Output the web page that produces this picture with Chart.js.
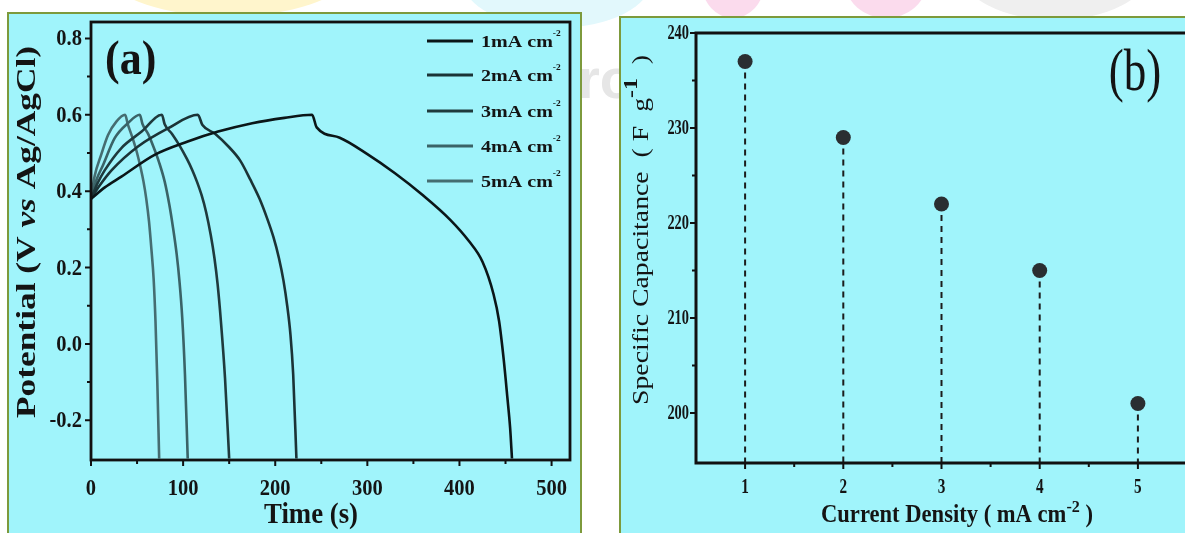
<!DOCTYPE html>
<html>
<head>
<meta charset="utf-8">
<script src="https://cdn.jsdelivr.net/npm/chart.js@4.4.1/dist/chart.umd.min.js"></script>
<style>
  body { margin: 0; width: 1185px; height: 533px; overflow: hidden; background: #fff; position: relative; }
  .blob { position: absolute; border-radius: 50%; }
  .mark { position: absolute; font: bold 56px "Liberation Sans"; color: #e6e6e6; }
  .panel { position: absolute; background: #a0f4fb; border: 2px solid #7d9a3c; overflow: hidden; }
  #pa { left: 7px; top: 12px; width: 571px; height: 540px; }
  #pb { left: 619px; top: 16px; width: 600px; height: 540px; }
  canvas { position: absolute; left: 0; top: 0; }
</style>
</head>
<body>
<div class="blob" style="left:112px;top:-62px;width:232px;height:78px;background:#fff5cc"></div>
<div class="blob" style="left:462px;top:-70px;width:190px;height:98px;background:#e2f8fc"></div>
<div class="blob" style="left:702px;top:-50px;width:62px;height:68px;background:#fbdbed"></div>
<div class="blob" style="left:846px;top:-50px;width:80px;height:68px;background:#fbdbed"></div>
<div class="blob" style="left:960px;top:-80px;width:190px;height:100px;background:#efefef"></div>
<div class="mark" style="left:578px;top:46px">ro</div>

<div class="panel" id="pa"><canvas id="ca" width="571" height="530"></canvas></div>
<div class="panel" id="pb"><canvas id="cb" width="600" height="530"></canvas></div>

<script>
// panel (a): charge/discharge curves
const timeTicks = [0, 100, 200, 300, 400, 500];
const timeMinor = [50, 150, 250, 350, 450];
const potTicks = [-0.2, 0, 0.2, 0.4, 0.6, 0.8];
const potLabels = ['-0.2', '0.0', '0.2', '0.4', '0.6', '0.8'];
const potMinor = [-0.1, 0.1, 0.3, 0.5, 0.7];
const densLabels = ['1mA cm', '2mA cm', '3mA cm', '4mA cm', '5mA cm'];

const t1 = [0, 15, 33, 69, 105, 138, 175, 210, 240, 245, 270, 300, 330, 360, 390, 410, 425, 437, 443, 448, 452, 455, 457];
const v1 = [0.38, 0.41, 0.438, 0.495, 0.53, 0.556, 0.578, 0.592, 0.6, 0.567, 0.54, 0.497, 0.447, 0.39, 0.325, 0.27, 0.215, 0.13, 0.06, -0.04, -0.14, -0.22, -0.3];
const t2 = [0, 8, 22.5, 51, 84, 116, 121, 135, 150, 162, 173, 183, 191, 198, 204, 209, 213, 216.5, 219.5, 223];
const v2 = [0.38, 0.41, 0.455, 0.517, 0.565, 0.6, 0.573, 0.55, 0.515, 0.48, 0.43, 0.38, 0.33, 0.28, 0.225, 0.165, 0.1, 0.025, -0.08, -0.3];
const t3 = [0, 7, 15, 33, 55, 77, 80, 88, 96, 104, 110, 115, 120, 125, 130, 134, 137.5, 141, 145.5, 150];
const v3 = [0.38, 0.42, 0.455, 0.513, 0.556, 0.6, 0.575, 0.55, 0.52, 0.485, 0.455, 0.425, 0.39, 0.345, 0.285, 0.225, 0.155, 0.06, -0.09, -0.3];
const t4 = [0, 6, 13, 25.7, 40, 53, 56, 62, 68, 74, 80, 85, 89, 93, 96, 99, 102, 105];
const v4 = [0.38, 0.43, 0.468, 0.539, 0.578, 0.6, 0.575, 0.55, 0.515, 0.475, 0.425, 0.365, 0.305, 0.235, 0.165, 0.07, -0.08, -0.3];
const t5 = [0, 4, 11, 18.5, 27.5, 37, 40, 45, 50, 54, 57, 60, 63, 65.5, 68, 70, 72, 74];
const v5 = [0.38, 0.44, 0.495, 0.547, 0.582, 0.6, 0.575, 0.54, 0.5, 0.46, 0.425, 0.38, 0.32, 0.25, 0.17, 0.06, -0.1, -0.3];

// panel (b): specific capacitance vs current density
const cdTicks = [1, 2, 3, 4, 5];
const cdMinor = [1.5, 2.5, 3.5, 4.5];
const capTicks = [200, 210, 220, 230, 240];
const capMinor = [205, 215, 225, 235];
const currentDensity = [1, 2, 3, 4, 5];
const capacitance = [237, 229, 222, 215, 201];

const lineColors = ['#0b1618', '#1b3336', '#1f3a3d', '#3a6367', '#456d71'];
const serif = '"Liberation Serif"';

function pts(t, v) { return t.map((x, i) => ({ x: x, y: v[i] })); }

// draw a row of text pieces: [text, font, yOffset]
function drawRuns(ctx, runs, x, y, o) {
  ctx.save();
  ctx.translate(x, y);
  if (o.rot) ctx.rotate(o.rot);
  let w = 0;
  runs.forEach(r => { ctx.font = r[1]; w += ctx.measureText(r[0]).width; });
  let sx = o.fit ? o.fit / w : (o.sx || 1);
  ctx.scale(sx, o.sy || 1);
  let cx = o.align === 'right' ? -w : o.align === 'left' ? 0 : -w / 2;
  ctx.fillStyle = o.color || '#141414';
  ctx.textBaseline = 'alphabetic';
  runs.forEach(r => {
    ctx.font = r[1];
    ctx.fillText(r[0], cx, r[2] || 0);
    cx += ctx.measureText(r[0]).width;
  });
  ctx.restore();
}

function drawFrame(chart, c) {
  const { ctx, chartArea: a, scales: { x, y } } = chart;
  ctx.save();
  ctx.strokeStyle = '#111';
  ctx.lineWidth = 2;
  ctx.beginPath();
  c.xMajor.forEach(v => { const p = x.getPixelForValue(v); ctx.moveTo(p, a.bottom); ctx.lineTo(p, a.bottom + c.major); });
  c.xMinor.forEach(v => { const p = x.getPixelForValue(v); ctx.moveTo(p, a.bottom); ctx.lineTo(p, a.bottom + c.minor); });
  c.yMajor.forEach(v => { const p = y.getPixelForValue(v); ctx.moveTo(a.left, p); ctx.lineTo(a.left - c.major, p); });
  c.yMinor.forEach(v => { const p = y.getPixelForValue(v); ctx.moveTo(a.left, p); ctx.lineTo(a.left - c.minor, p); });
  ctx.stroke();
  ctx.lineWidth = c.frameW;
  ctx.strokeRect(a.left, a.top, a.right - a.left, a.bottom - a.top);
  ctx.restore();
}

const axesA = {
  id: 'axesA',
  afterDraw(chart) {
    const { ctx, chartArea: a, scales: { x, y } } = chart;
    drawFrame(chart, { xMajor: timeTicks, xMinor: timeMinor, yMajor: potTicks, yMinor: potMinor, major: 6, minor: 4, frameW: 2.8 });
    const tf = 'bold 19px ' + serif;
    potTicks.forEach((v, i) => {
      drawRuns(ctx, [[potLabels[i], tf]], a.left - 9, y.getPixelForValue(v) + 7, { align: 'right', sx: 1.08, sy: 1.2 });
    });
    timeTicks.forEach(v => {
      drawRuns(ctx, [[String(v), tf]], x.getPixelForValue(v), a.bottom + 35, { sx: 1.08, sy: 1.2 });
    });
    const bf = 'bold 25px ' + serif;
    drawRuns(ctx, [['Time (s)', bf]], 302, a.bottom + 63, { fit: 94, sy: 1.2 });
    drawRuns(ctx, [['Potential (V ', bf], ['vs', 'bold italic 25px ' + serif], [' Ag/AgCl)', bf]],
      26, 218, { rot: -Math.PI / 2, fit: 372, sy: 1.1 });
    drawRuns(ctx, [['(a)', 'bold 44px ' + serif]], 96, 60, { align: 'left', sy: 1.1 });
    // legend
    chart.data.datasets.forEach((ds, i) => {
      const ly = 26 + [0, 34, 70, 105, 140][i] + 1;
      ctx.save();
      ctx.strokeStyle = ds.borderColor;
      ctx.lineWidth = 3;
      ctx.beginPath();
      ctx.moveTo(418, ly); ctx.lineTo(464, ly);
      ctx.stroke();
      ctx.restore();
      drawRuns(ctx, [[ds.label, 'bold 17px ' + serif], ['-2', 'bold 8px ' + serif, -11]], 472, ly + 6, { align: 'left', sx: 1.18 });
    });
  }
};

new Chart(document.getElementById('ca'), {
  type: 'scatter',
  data: {
    datasets: [[t1, v1], [t2, v2], [t3, v3], [t4, v4], [t5, v5]].map((s, i) => ({
      label: densLabels[i],
      data: pts(s[0], s[1]),
      showLine: true,
      borderColor: lineColors[i],
      borderWidth: 2.6,
      pointRadius: 0,
      cubicInterpolationMode: 'monotone'
    }))
  },
  options: {
    responsive: false,
    animation: false,
    events: [],
    layout: { padding: { left: 82, right: 10, top: 8, bottom: 84 } },
    plugins: { legend: { display: false }, tooltip: { enabled: false } },
    scales: {
      x: { type: 'linear', display: false, min: 0, max: 520 },
      y: { type: 'linear', display: false, min: -0.304, max: 0.843 }
    }
  },
  plugins: [axesA]
});

const stems = {
  id: 'stems',
  beforeDatasetsDraw(chart) {
    const { ctx, chartArea: a } = chart;
    ctx.save();
    ctx.strokeStyle = '#1c1c1c';
    ctx.lineWidth = 2;
    ctx.setLineDash([6, 5]);
    chart.getDatasetMeta(0).data.forEach(el => {
      ctx.beginPath();
      ctx.moveTo(el.x, el.y);
      ctx.lineTo(el.x, a.bottom);
      ctx.stroke();
    });
    ctx.restore();
  }
};

const axesB = {
  id: 'axesB',
  afterDraw(chart) {
    const { ctx, chartArea: a, scales: { x, y } } = chart;
    drawFrame(chart, { xMajor: cdTicks, xMinor: cdMinor, yMajor: capTicks, yMinor: capMinor, major: 6, minor: 4, frameW: 3 });
    const tf = 'bold 16px ' + serif;
    capTicks.forEach(v => {
      drawRuns(ctx, [[String(v), tf]], a.left - 7, y.getPixelForValue(v) + 6, { align: 'right', sx: 0.9, sy: 1.25 });
    });
    cdTicks.forEach(v => {
      drawRuns(ctx, [[String(v), tf]], x.getPixelForValue(v), a.bottom + 30, { sx: 0.95, sy: 1.25 });
    });
    const bf = 'bold 21px ' + serif;
    drawRuns(ctx, [['Current Density ( mA cm', bf], ['-2', 'bold 15px ' + serif, -9], [' )', bf]],
      336, a.bottom + 59, { fit: 272, sy: 1.15 });
    const rf = '21px ' + serif;
    drawRuns(ctx, [['Specific Capacitance  ( F  g', rf], ['-1', 'bold 18px ' + serif, -10], ['  )', rf]],
      27, 212, { rot: -Math.PI / 2, fit: 350, sy: 1.08 });
    drawRuns(ctx, [['(b)', '45px ' + serif]], 514, 72, { sy: 1.3 });
  }
};

new Chart(document.getElementById('cb'), {
  type: 'scatter',
  data: {
    datasets: [{
      data: pts(currentDensity, capacitance),
      pointRadius: 7.5,
      pointBackgroundColor: '#2a2e31',
      pointBorderWidth: 0
    }]
  },
  options: {
    responsive: false,
    animation: false,
    events: [],
    layout: { padding: { left: 75, right: 34, top: 15, bottom: 85 } },
    plugins: { legend: { display: false }, tooltip: { enabled: false } },
    scales: {
      x: { type: 'linear', display: false, min: 0.5, max: 5.5 },
      y: { type: 'linear', display: false, min: 194.74, max: 240 }
    }
  },
  plugins: [stems, axesB]
});
</script>
</body>
</html>
